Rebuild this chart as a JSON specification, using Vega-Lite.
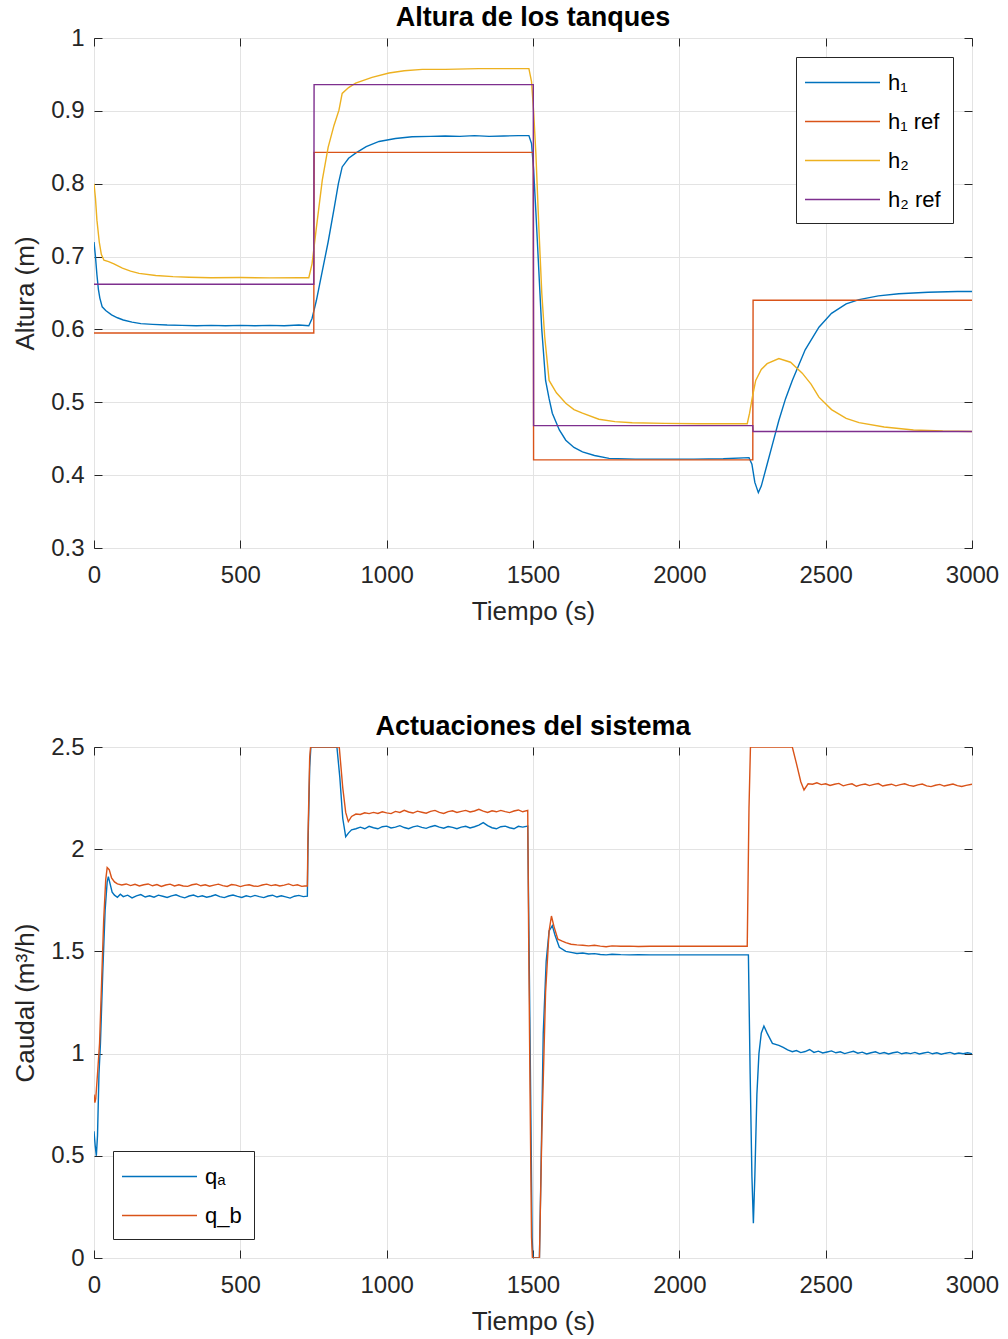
{
  "$schema": "https://vega.github.io/schema/vega-lite/v6.json",
  "background": "white",
  "padding": {"left": 12, "top": 3, "right": 0, "bottom": 0},
  "config": {
    "font": "Liberation Sans",
    "view": {"stroke": "#262626", "strokeWidth": 1},
    "axis": {
      "grid": true, "gridColor": "#e3e3e3", "gridWidth": 1,
      "domain": false, "tickColor": "#262626", "tickSize": -8, "tickWidth": 1,
      "labelFontSize": 24, "labelColor": "#262626",
      "labelFlush": false, "labelOverlap": false,
      "titleFontSize": 26, "titleFontWeight": "normal", "titleColor": "#262626"
    },
    "title": {"fontSize": 27, "fontWeight": "bold", "color": "#000000", "frame": "group", "offset": -6},
    "legend": {
      "title": null, "strokeColor": "#262626", "fillColor": "white", "padding": 12,
      "symbolType": "M-3,0H3", "symbolSize": 625, "symbolStrokeWidth": 1.4, "symbolOffset": 21,
      "labelFontSize": 22, "labelColor": "#000000", "labelOffset": 32, "rowPadding": 14, "offset": 19
    }
  },
  "spacing": 87,
  "resolve": {"scale": {"color": "independent", "x": "independent", "y": "independent"}, "legend": {"color": "independent"}},
  "datasets": {
    "alturas": [
      {"t":0,"v":0.72,"s":"h₁"},{"t":5,"v":0.70,"s":"h₁"},{"t":10,"v":0.675,"s":"h₁"},{"t":15,"v":0.655,"s":"h₁"},{"t":20,"v":0.643,"s":"h₁"},{"t":28,"v":0.631,"s":"h₁"},{"t":40,"v":0.626,"s":"h₁"},{"t":60,"v":0.62,"s":"h₁"},{"t":80,"v":0.616,"s":"h₁"},{"t":100,"v":0.613,"s":"h₁"},{"t":130,"v":0.61,"s":"h₁"},{"t":160,"v":0.608,"s":"h₁"},{"t":200,"v":0.607,"s":"h₁"},{"t":250,"v":0.606,"s":"h₁"},{"t":300,"v":0.6055,"s":"h₁"},{"t":350,"v":0.605,"s":"h₁"},{"t":400,"v":0.6055,"s":"h₁"},{"t":450,"v":0.605,"s":"h₁"},{"t":500,"v":0.6055,"s":"h₁"},{"t":550,"v":0.605,"s":"h₁"},{"t":600,"v":0.6055,"s":"h₁"},{"t":650,"v":0.605,"s":"h₁"},{"t":700,"v":0.606,"s":"h₁"},{"t":734,"v":0.605,"s":"h₁"},{"t":745,"v":0.615,"s":"h₁"},{"t":760,"v":0.64,"s":"h₁"},{"t":780,"v":0.68,"s":"h₁"},{"t":800,"v":0.72,"s":"h₁"},{"t":820,"v":0.765,"s":"h₁"},{"t":835,"v":0.8,"s":"h₁"},{"t":848,"v":0.823,"s":"h₁"},{"t":870,"v":0.835,"s":"h₁"},{"t":894,"v":0.842,"s":"h₁"},{"t":930,"v":0.851,"s":"h₁"},{"t":974,"v":0.858,"s":"h₁"},{"t":1030,"v":0.862,"s":"h₁"},{"t":1087,"v":0.8645,"s":"h₁"},{"t":1150,"v":0.865,"s":"h₁"},{"t":1200,"v":0.8655,"s":"h₁"},{"t":1250,"v":0.865,"s":"h₁"},{"t":1300,"v":0.866,"s":"h₁"},{"t":1350,"v":0.865,"s":"h₁"},{"t":1400,"v":0.8655,"s":"h₁"},{"t":1450,"v":0.866,"s":"h₁"},{"t":1486,"v":0.866,"s":"h₁"},{"t":1495,"v":0.855,"s":"h₁"},{"t":1502,"v":0.82,"s":"h₁"},{"t":1510,"v":0.76,"s":"h₁"},{"t":1520,"v":0.68,"s":"h₁"},{"t":1530,"v":0.6,"s":"h₁"},{"t":1543,"v":0.53,"s":"h₁"},{"t":1555,"v":0.505,"s":"h₁"},{"t":1566,"v":0.485,"s":"h₁"},{"t":1590,"v":0.462,"s":"h₁"},{"t":1612,"v":0.448,"s":"h₁"},{"t":1640,"v":0.438,"s":"h₁"},{"t":1669,"v":0.432,"s":"h₁"},{"t":1710,"v":0.427,"s":"h₁"},{"t":1760,"v":0.423,"s":"h₁"},{"t":1850,"v":0.422,"s":"h₁"},{"t":1950,"v":0.422,"s":"h₁"},{"t":2050,"v":0.422,"s":"h₁"},{"t":2150,"v":0.4225,"s":"h₁"},{"t":2238,"v":0.424,"s":"h₁"},{"t":2248,"v":0.415,"s":"h₁"},{"t":2258,"v":0.39,"s":"h₁"},{"t":2270,"v":0.376,"s":"h₁"},{"t":2280,"v":0.385,"s":"h₁"},{"t":2300,"v":0.415,"s":"h₁"},{"t":2320,"v":0.445,"s":"h₁"},{"t":2340,"v":0.475,"s":"h₁"},{"t":2363,"v":0.505,"s":"h₁"},{"t":2386,"v":0.53,"s":"h₁"},{"t":2430,"v":0.572,"s":"h₁"},{"t":2477,"v":0.603,"s":"h₁"},{"t":2520,"v":0.622,"s":"h₁"},{"t":2570,"v":0.635,"s":"h₁"},{"t":2614,"v":0.641,"s":"h₁"},{"t":2680,"v":0.646,"s":"h₁"},{"t":2750,"v":0.649,"s":"h₁"},{"t":2850,"v":0.651,"s":"h₁"},{"t":2950,"v":0.652,"s":"h₁"},{"t":3000,"v":0.652,"s":"h₁"},
      {"t":0,"v":0.595,"s":"h₁ ref"},{"t":751,"v":0.595,"s":"h₁ ref"},{"t":752,"v":0.843,"s":"h₁ ref"},{"t":1501,"v":0.843,"s":"h₁ ref"},{"t":1502,"v":0.421,"s":"h₁ ref"},{"t":2251,"v":0.421,"s":"h₁ ref"},{"t":2252,"v":0.64,"s":"h₁ ref"},{"t":3000,"v":0.64,"s":"h₁ ref"},
      {"t":0,"v":0.80,"s":"h₂"},{"t":5,"v":0.78,"s":"h₂"},{"t":10,"v":0.75,"s":"h₂"},{"t":18,"v":0.72,"s":"h₂"},{"t":25,"v":0.703,"s":"h₂"},{"t":34,"v":0.695,"s":"h₂"},{"t":50,"v":0.693,"s":"h₂"},{"t":68,"v":0.69,"s":"h₂"},{"t":97,"v":0.684,"s":"h₂"},{"t":125,"v":0.68,"s":"h₂"},{"t":154,"v":0.677,"s":"h₂"},{"t":211,"v":0.674,"s":"h₂"},{"t":270,"v":0.6725,"s":"h₂"},{"t":325,"v":0.6716,"s":"h₂"},{"t":400,"v":0.671,"s":"h₂"},{"t":500,"v":0.6712,"s":"h₂"},{"t":600,"v":0.6708,"s":"h₂"},{"t":700,"v":0.671,"s":"h₂"},{"t":734,"v":0.671,"s":"h₂"},{"t":745,"v":0.69,"s":"h₂"},{"t":760,"v":0.74,"s":"h₂"},{"t":780,"v":0.805,"s":"h₂"},{"t":800,"v":0.85,"s":"h₂"},{"t":820,"v":0.88,"s":"h₂"},{"t":837,"v":0.901,"s":"h₂"},{"t":848,"v":0.924,"s":"h₂"},{"t":870,"v":0.932,"s":"h₂"},{"t":894,"v":0.938,"s":"h₂"},{"t":950,"v":0.946,"s":"h₂"},{"t":1008,"v":0.952,"s":"h₂"},{"t":1060,"v":0.955,"s":"h₂"},{"t":1122,"v":0.957,"s":"h₂"},{"t":1200,"v":0.957,"s":"h₂"},{"t":1315,"v":0.958,"s":"h₂"},{"t":1400,"v":0.958,"s":"h₂"},{"t":1486,"v":0.958,"s":"h₂"},{"t":1495,"v":0.94,"s":"h₂"},{"t":1502,"v":0.9,"s":"h₂"},{"t":1510,"v":0.84,"s":"h₂"},{"t":1520,"v":0.74,"s":"h₂"},{"t":1530,"v":0.65,"s":"h₂"},{"t":1540,"v":0.59,"s":"h₂"},{"t":1555,"v":0.53,"s":"h₂"},{"t":1580,"v":0.513,"s":"h₂"},{"t":1612,"v":0.4986,"s":"h₂"},{"t":1640,"v":0.49,"s":"h₂"},{"t":1669,"v":0.485,"s":"h₂"},{"t":1725,"v":0.4767,"s":"h₂"},{"t":1780,"v":0.4735,"s":"h₂"},{"t":1839,"v":0.472,"s":"h₂"},{"t":1950,"v":0.471,"s":"h₂"},{"t":2067,"v":0.4706,"s":"h₂"},{"t":2232,"v":0.4706,"s":"h₂"},{"t":2240,"v":0.485,"s":"h₂"},{"t":2250,"v":0.508,"s":"h₂"},{"t":2261,"v":0.53,"s":"h₂"},{"t":2280,"v":0.545,"s":"h₂"},{"t":2300,"v":0.553,"s":"h₂"},{"t":2340,"v":0.56,"s":"h₂"},{"t":2380,"v":0.555,"s":"h₂"},{"t":2420,"v":0.54,"s":"h₂"},{"t":2450,"v":0.525,"s":"h₂"},{"t":2477,"v":0.507,"s":"h₂"},{"t":2520,"v":0.49,"s":"h₂"},{"t":2570,"v":0.478,"s":"h₂"},{"t":2614,"v":0.472,"s":"h₂"},{"t":2700,"v":0.466,"s":"h₂"},{"t":2800,"v":0.462,"s":"h₂"},{"t":2900,"v":0.4605,"s":"h₂"},{"t":3000,"v":0.46,"s":"h₂"},
      {"t":0,"v":0.662,"s":"h₂ ref"},{"t":751,"v":0.662,"s":"h₂ ref"},{"t":752,"v":0.936,"s":"h₂ ref"},{"t":1501,"v":0.936,"s":"h₂ ref"},{"t":1502,"v":0.468,"s":"h₂ ref"},{"t":2251,"v":0.468,"s":"h₂ ref"},{"t":2252,"v":0.46,"s":"h₂ ref"},{"t":3000,"v":0.46,"s":"h₂ ref"}
    ],
    "caudal": [
      {"t":0,"v":0.62,"s":"qₐ"},{"t":4,"v":0.55,"s":"qₐ"},{"t":8,"v":0.5,"s":"qₐ"},{"t":12,"v":0.6,"s":"qₐ"},{"t":17,"v":0.9,"s":"qₐ"},{"t":22,"v":1.05,"s":"qₐ"},{"t":30,"v":1.4,"s":"qₐ"},{"t":38,"v":1.7,"s":"qₐ"},{"t":45,"v":1.84,"s":"qₐ"},{"t":49,"v":1.866,"s":"qₐ"},{"t":55,"v":1.83,"s":"qₐ"},{"t":62,"v":1.79,"s":"qₐ"},{"t":70,"v":1.775,"s":"qₐ"},{"t":80,"v":1.765,"s":"qₐ"},{"t":90,"v":1.78,"s":"qₐ"},{"t":100,"v":1.768,"s":"qₐ"},{"t":115,"v":1.775,"s":"qₐ"},{"t":130,"v":1.762,"s":"qₐ"},{"t":145,"v":1.772,"s":"qₐ"},{"t":160,"v":1.778,"s":"qₐ"},{"t":175,"v":1.766,"s":"qₐ"},{"t":190,"v":1.772,"s":"qₐ"},{"t":205,"v":1.765,"s":"qₐ"},{"t":220,"v":1.775,"s":"qₐ"},{"t":235,"v":1.77,"s":"qₐ"},{"t":250,"v":1.764,"s":"qₐ"},{"t":265,"v":1.772,"s":"qₐ"},{"t":280,"v":1.777,"s":"qₐ"},{"t":295,"v":1.768,"s":"qₐ"},{"t":310,"v":1.762,"s":"qₐ"},{"t":325,"v":1.771,"s":"qₐ"},{"t":340,"v":1.776,"s":"qₐ"},{"t":355,"v":1.767,"s":"qₐ"},{"t":370,"v":1.772,"s":"qₐ"},{"t":385,"v":1.765,"s":"qₐ"},{"t":400,"v":1.77,"s":"qₐ"},{"t":415,"v":1.777,"s":"qₐ"},{"t":430,"v":1.768,"s":"qₐ"},{"t":445,"v":1.763,"s":"qₐ"},{"t":460,"v":1.771,"s":"qₐ"},{"t":475,"v":1.776,"s":"qₐ"},{"t":490,"v":1.769,"s":"qₐ"},{"t":505,"v":1.764,"s":"qₐ"},{"t":520,"v":1.772,"s":"qₐ"},{"t":535,"v":1.767,"s":"qₐ"},{"t":550,"v":1.774,"s":"qₐ"},{"t":565,"v":1.768,"s":"qₐ"},{"t":580,"v":1.763,"s":"qₐ"},{"t":595,"v":1.771,"s":"qₐ"},{"t":610,"v":1.775,"s":"qₐ"},{"t":625,"v":1.766,"s":"qₐ"},{"t":640,"v":1.772,"s":"qₐ"},{"t":655,"v":1.767,"s":"qₐ"},{"t":670,"v":1.761,"s":"qₐ"},{"t":685,"v":1.77,"s":"qₐ"},{"t":700,"v":1.774,"s":"qₐ"},{"t":715,"v":1.768,"s":"qₐ"},{"t":729,"v":1.77,"s":"qₐ"},{"t":731,"v":2.0,"s":"qₐ"},{"t":737,"v":2.4,"s":"qₐ"},{"t":741,"v":2.5,"s":"qₐ"},{"t":830,"v":2.5,"s":"qₐ"},{"t":840,"v":2.35,"s":"qₐ"},{"t":850,"v":2.15,"s":"qₐ"},{"t":860,"v":2.061,"s":"qₐ"},{"t":870,"v":2.08,"s":"qₐ"},{"t":880,"v":2.095,"s":"qₐ"},{"t":895,"v":2.1,"s":"qₐ"},{"t":910,"v":2.108,"s":"qₐ"},{"t":925,"v":2.1,"s":"qₐ"},{"t":940,"v":2.112,"s":"qₐ"},{"t":955,"v":2.105,"s":"qₐ"},{"t":970,"v":2.1,"s":"qₐ"},{"t":985,"v":2.11,"s":"qₐ"},{"t":1000,"v":2.113,"s":"qₐ"},{"t":1015,"v":2.104,"s":"qₐ"},{"t":1030,"v":2.108,"s":"qₐ"},{"t":1045,"v":2.115,"s":"qₐ"},{"t":1060,"v":2.106,"s":"qₐ"},{"t":1075,"v":2.1,"s":"qₐ"},{"t":1090,"v":2.109,"s":"qₐ"},{"t":1105,"v":2.114,"s":"qₐ"},{"t":1120,"v":2.107,"s":"qₐ"},{"t":1135,"v":2.102,"s":"qₐ"},{"t":1150,"v":2.11,"s":"qₐ"},{"t":1165,"v":2.116,"s":"qₐ"},{"t":1180,"v":2.108,"s":"qₐ"},{"t":1195,"v":2.103,"s":"qₐ"},{"t":1210,"v":2.111,"s":"qₐ"},{"t":1225,"v":2.107,"s":"qₐ"},{"t":1240,"v":2.1,"s":"qₐ"},{"t":1255,"v":2.108,"s":"qₐ"},{"t":1270,"v":2.112,"s":"qₐ"},{"t":1285,"v":2.104,"s":"qₐ"},{"t":1300,"v":2.11,"s":"qₐ"},{"t":1315,"v":2.118,"s":"qₐ"},{"t":1330,"v":2.13,"s":"qₐ"},{"t":1345,"v":2.115,"s":"qₐ"},{"t":1360,"v":2.105,"s":"qₐ"},{"t":1375,"v":2.1,"s":"qₐ"},{"t":1390,"v":2.11,"s":"qₐ"},{"t":1405,"v":2.113,"s":"qₐ"},{"t":1420,"v":2.105,"s":"qₐ"},{"t":1435,"v":2.1,"s":"qₐ"},{"t":1450,"v":2.112,"s":"qₐ"},{"t":1465,"v":2.108,"s":"qₐ"},{"t":1482,"v":2.113,"s":"qₐ"},{"t":1486,"v":1.6,"s":"qₐ"},{"t":1492,"v":0.8,"s":"qₐ"},{"t":1497,"v":0.1,"s":"qₐ"},{"t":1500,"v":0,"s":"qₐ"},{"t":1522,"v":0,"s":"qₐ"},{"t":1527,"v":0.4,"s":"qₐ"},{"t":1535,"v":1.1,"s":"qₐ"},{"t":1545,"v":1.45,"s":"qₐ"},{"t":1555,"v":1.6,"s":"qₐ"},{"t":1566,"v":1.626,"s":"qₐ"},{"t":1575,"v":1.58,"s":"qₐ"},{"t":1590,"v":1.52,"s":"qₐ"},{"t":1612,"v":1.5,"s":"qₐ"},{"t":1630,"v":1.495,"s":"qₐ"},{"t":1650,"v":1.49,"s":"qₐ"},{"t":1670,"v":1.492,"s":"qₐ"},{"t":1690,"v":1.487,"s":"qₐ"},{"t":1710,"v":1.489,"s":"qₐ"},{"t":1730,"v":1.485,"s":"qₐ"},{"t":1750,"v":1.483,"s":"qₐ"},{"t":1770,"v":1.486,"s":"qₐ"},{"t":1800,"v":1.484,"s":"qₐ"},{"t":1830,"v":1.483,"s":"qₐ"},{"t":1860,"v":1.484,"s":"qₐ"},{"t":1900,"v":1.483,"s":"qₐ"},{"t":2000,"v":1.483,"s":"qₐ"},{"t":2100,"v":1.483,"s":"qₐ"},{"t":2200,"v":1.483,"s":"qₐ"},{"t":2236,"v":1.483,"s":"qₐ"},{"t":2242,"v":0.9,"s":"qₐ"},{"t":2248,"v":0.4,"s":"qₐ"},{"t":2253,"v":0.17,"s":"qₐ"},{"t":2258,"v":0.4,"s":"qₐ"},{"t":2265,"v":0.8,"s":"qₐ"},{"t":2272,"v":1.0,"s":"qₐ"},{"t":2280,"v":1.1,"s":"qₐ"},{"t":2289,"v":1.135,"s":"qₐ"},{"t":2300,"v":1.1,"s":"qₐ"},{"t":2318,"v":1.05,"s":"qₐ"},{"t":2340,"v":1.04,"s":"qₐ"},{"t":2355,"v":1.03,"s":"qₐ"},{"t":2370,"v":1.018,"s":"qₐ"},{"t":2386,"v":1.009,"s":"qₐ"},{"t":2400,"v":1.015,"s":"qₐ"},{"t":2415,"v":1.005,"s":"qₐ"},{"t":2430,"v":1.01,"s":"qₐ"},{"t":2445,"v":1.02,"s":"qₐ"},{"t":2460,"v":1.006,"s":"qₐ"},{"t":2475,"v":1.012,"s":"qₐ"},{"t":2490,"v":1.003,"s":"qₐ"},{"t":2505,"v":1.008,"s":"qₐ"},{"t":2520,"v":1.013,"s":"qₐ"},{"t":2535,"v":1.004,"s":"qₐ"},{"t":2550,"v":1.009,"s":"qₐ"},{"t":2565,"v":1.0,"s":"qₐ"},{"t":2580,"v":1.006,"s":"qₐ"},{"t":2595,"v":1.011,"s":"qₐ"},{"t":2610,"v":1.002,"s":"qₐ"},{"t":2625,"v":1.007,"s":"qₐ"},{"t":2640,"v":0.998,"s":"qₐ"},{"t":2655,"v":1.004,"s":"qₐ"},{"t":2670,"v":1.009,"s":"qₐ"},{"t":2685,"v":1.0,"s":"qₐ"},{"t":2700,"v":1.005,"s":"qₐ"},{"t":2715,"v":0.998,"s":"qₐ"},{"t":2730,"v":1.004,"s":"qₐ"},{"t":2745,"v":1.008,"s":"qₐ"},{"t":2760,"v":0.999,"s":"qₐ"},{"t":2775,"v":1.004,"s":"qₐ"},{"t":2790,"v":1.0,"s":"qₐ"},{"t":2805,"v":1.006,"s":"qₐ"},{"t":2820,"v":0.998,"s":"qₐ"},{"t":2835,"v":1.003,"s":"qₐ"},{"t":2850,"v":1.007,"s":"qₐ"},{"t":2865,"v":0.999,"s":"qₐ"},{"t":2880,"v":1.004,"s":"qₐ"},{"t":2895,"v":0.997,"s":"qₐ"},{"t":2910,"v":1.002,"s":"qₐ"},{"t":2925,"v":1.006,"s":"qₐ"},{"t":2940,"v":0.998,"s":"qₐ"},{"t":2955,"v":1.003,"s":"qₐ"},{"t":2970,"v":0.999,"s":"qₐ"},{"t":2985,"v":1.004,"s":"qₐ"},{"t":3000,"v":1.0,"s":"qₐ"},
      {"t":0,"v":0.8,"s":"q_b"},{"t":3,"v":0.76,"s":"q_b"},{"t":6,"v":0.78,"s":"q_b"},{"t":12,"v":0.9,"s":"q_b"},{"t":19,"v":1.05,"s":"q_b"},{"t":26,"v":1.35,"s":"q_b"},{"t":33,"v":1.65,"s":"q_b"},{"t":40,"v":1.85,"s":"q_b"},{"t":45,"v":1.91,"s":"q_b"},{"t":52,"v":1.9,"s":"q_b"},{"t":60,"v":1.86,"s":"q_b"},{"t":70,"v":1.84,"s":"q_b"},{"t":80,"v":1.83,"s":"q_b"},{"t":95,"v":1.825,"s":"q_b"},{"t":110,"v":1.83,"s":"q_b"},{"t":125,"v":1.822,"s":"q_b"},{"t":140,"v":1.828,"s":"q_b"},{"t":155,"v":1.82,"s":"q_b"},{"t":170,"v":1.826,"s":"q_b"},{"t":185,"v":1.83,"s":"q_b"},{"t":200,"v":1.821,"s":"q_b"},{"t":215,"v":1.827,"s":"q_b"},{"t":230,"v":1.818,"s":"q_b"},{"t":245,"v":1.825,"s":"q_b"},{"t":260,"v":1.829,"s":"q_b"},{"t":275,"v":1.82,"s":"q_b"},{"t":290,"v":1.826,"s":"q_b"},{"t":305,"v":1.82,"s":"q_b"},{"t":320,"v":1.818,"s":"q_b"},{"t":335,"v":1.826,"s":"q_b"},{"t":350,"v":1.83,"s":"q_b"},{"t":365,"v":1.821,"s":"q_b"},{"t":380,"v":1.826,"s":"q_b"},{"t":395,"v":1.819,"s":"q_b"},{"t":410,"v":1.824,"s":"q_b"},{"t":425,"v":1.829,"s":"q_b"},{"t":440,"v":1.822,"s":"q_b"},{"t":455,"v":1.818,"s":"q_b"},{"t":470,"v":1.827,"s":"q_b"},{"t":485,"v":1.824,"s":"q_b"},{"t":500,"v":1.817,"s":"q_b"},{"t":515,"v":1.823,"s":"q_b"},{"t":530,"v":1.826,"s":"q_b"},{"t":545,"v":1.82,"s":"q_b"},{"t":560,"v":1.818,"s":"q_b"},{"t":575,"v":1.825,"s":"q_b"},{"t":590,"v":1.829,"s":"q_b"},{"t":605,"v":1.822,"s":"q_b"},{"t":620,"v":1.826,"s":"q_b"},{"t":635,"v":1.82,"s":"q_b"},{"t":650,"v":1.824,"s":"q_b"},{"t":665,"v":1.83,"s":"q_b"},{"t":680,"v":1.822,"s":"q_b"},{"t":695,"v":1.826,"s":"q_b"},{"t":710,"v":1.818,"s":"q_b"},{"t":720,"v":1.82,"s":"q_b"},{"t":729,"v":1.82,"s":"q_b"},{"t":731,"v":2.05,"s":"q_b"},{"t":737,"v":2.45,"s":"q_b"},{"t":740,"v":2.5,"s":"q_b"},{"t":838,"v":2.5,"s":"q_b"},{"t":850,"v":2.3,"s":"q_b"},{"t":860,"v":2.18,"s":"q_b"},{"t":869,"v":2.135,"s":"q_b"},{"t":880,"v":2.16,"s":"q_b"},{"t":895,"v":2.172,"s":"q_b"},{"t":910,"v":2.17,"s":"q_b"},{"t":925,"v":2.178,"s":"q_b"},{"t":940,"v":2.174,"s":"q_b"},{"t":955,"v":2.18,"s":"q_b"},{"t":970,"v":2.175,"s":"q_b"},{"t":985,"v":2.183,"s":"q_b"},{"t":1000,"v":2.178,"s":"q_b"},{"t":1015,"v":2.174,"s":"q_b"},{"t":1030,"v":2.185,"s":"q_b"},{"t":1045,"v":2.18,"s":"q_b"},{"t":1060,"v":2.19,"s":"q_b"},{"t":1075,"v":2.182,"s":"q_b"},{"t":1090,"v":2.177,"s":"q_b"},{"t":1105,"v":2.186,"s":"q_b"},{"t":1120,"v":2.181,"s":"q_b"},{"t":1135,"v":2.176,"s":"q_b"},{"t":1150,"v":2.185,"s":"q_b"},{"t":1165,"v":2.19,"s":"q_b"},{"t":1180,"v":2.18,"s":"q_b"},{"t":1195,"v":2.175,"s":"q_b"},{"t":1210,"v":2.184,"s":"q_b"},{"t":1225,"v":2.188,"s":"q_b"},{"t":1240,"v":2.18,"s":"q_b"},{"t":1255,"v":2.185,"s":"q_b"},{"t":1270,"v":2.19,"s":"q_b"},{"t":1285,"v":2.182,"s":"q_b"},{"t":1300,"v":2.187,"s":"q_b"},{"t":1315,"v":2.195,"s":"q_b"},{"t":1330,"v":2.186,"s":"q_b"},{"t":1345,"v":2.18,"s":"q_b"},{"t":1360,"v":2.188,"s":"q_b"},{"t":1375,"v":2.183,"s":"q_b"},{"t":1390,"v":2.19,"s":"q_b"},{"t":1405,"v":2.184,"s":"q_b"},{"t":1420,"v":2.179,"s":"q_b"},{"t":1435,"v":2.187,"s":"q_b"},{"t":1450,"v":2.192,"s":"q_b"},{"t":1465,"v":2.183,"s":"q_b"},{"t":1482,"v":2.19,"s":"q_b"},{"t":1485,"v":1.6,"s":"q_b"},{"t":1490,"v":0.8,"s":"q_b"},{"t":1495,"v":0.1,"s":"q_b"},{"t":1498,"v":0,"s":"q_b"},{"t":1522,"v":0,"s":"q_b"},{"t":1530,"v":0.6,"s":"q_b"},{"t":1543,"v":1.3,"s":"q_b"},{"t":1555,"v":1.6,"s":"q_b"},{"t":1563,"v":1.673,"s":"q_b"},{"t":1572,"v":1.62,"s":"q_b"},{"t":1585,"v":1.56,"s":"q_b"},{"t":1600,"v":1.55,"s":"q_b"},{"t":1612,"v":1.543,"s":"q_b"},{"t":1630,"v":1.535,"s":"q_b"},{"t":1650,"v":1.532,"s":"q_b"},{"t":1670,"v":1.53,"s":"q_b"},{"t":1690,"v":1.527,"s":"q_b"},{"t":1710,"v":1.53,"s":"q_b"},{"t":1730,"v":1.526,"s":"q_b"},{"t":1750,"v":1.523,"s":"q_b"},{"t":1770,"v":1.527,"s":"q_b"},{"t":1800,"v":1.525,"s":"q_b"},{"t":1830,"v":1.526,"s":"q_b"},{"t":1860,"v":1.524,"s":"q_b"},{"t":1900,"v":1.525,"s":"q_b"},{"t":2000,"v":1.525,"s":"q_b"},{"t":2100,"v":1.525,"s":"q_b"},{"t":2200,"v":1.525,"s":"q_b"},{"t":2232,"v":1.525,"s":"q_b"},{"t":2238,"v":2.2,"s":"q_b"},{"t":2243,"v":2.5,"s":"q_b"},{"t":2386,"v":2.5,"s":"q_b"},{"t":2400,"v":2.42,"s":"q_b"},{"t":2415,"v":2.33,"s":"q_b"},{"t":2426,"v":2.29,"s":"q_b"},{"t":2440,"v":2.32,"s":"q_b"},{"t":2455,"v":2.318,"s":"q_b"},{"t":2470,"v":2.325,"s":"q_b"},{"t":2485,"v":2.316,"s":"q_b"},{"t":2500,"v":2.32,"s":"q_b"},{"t":2515,"v":2.312,"s":"q_b"},{"t":2530,"v":2.318,"s":"q_b"},{"t":2545,"v":2.322,"s":"q_b"},{"t":2560,"v":2.31,"s":"q_b"},{"t":2575,"v":2.316,"s":"q_b"},{"t":2590,"v":2.32,"s":"q_b"},{"t":2605,"v":2.308,"s":"q_b"},{"t":2620,"v":2.315,"s":"q_b"},{"t":2635,"v":2.319,"s":"q_b"},{"t":2650,"v":2.311,"s":"q_b"},{"t":2665,"v":2.317,"s":"q_b"},{"t":2680,"v":2.321,"s":"q_b"},{"t":2695,"v":2.309,"s":"q_b"},{"t":2710,"v":2.314,"s":"q_b"},{"t":2725,"v":2.318,"s":"q_b"},{"t":2740,"v":2.31,"s":"q_b"},{"t":2755,"v":2.316,"s":"q_b"},{"t":2770,"v":2.32,"s":"q_b"},{"t":2785,"v":2.312,"s":"q_b"},{"t":2800,"v":2.308,"s":"q_b"},{"t":2815,"v":2.315,"s":"q_b"},{"t":2830,"v":2.319,"s":"q_b"},{"t":2845,"v":2.31,"s":"q_b"},{"t":2860,"v":2.306,"s":"q_b"},{"t":2875,"v":2.313,"s":"q_b"},{"t":2890,"v":2.317,"s":"q_b"},{"t":2905,"v":2.309,"s":"q_b"},{"t":2920,"v":2.314,"s":"q_b"},{"t":2935,"v":2.319,"s":"q_b"},{"t":2950,"v":2.311,"s":"q_b"},{"t":2965,"v":2.307,"s":"q_b"},{"t":2980,"v":2.312,"s":"q_b"},{"t":3000,"v":2.318,"s":"q_b"}
    ]
  },
  "vconcat": [
    {
      "width": 878, "height": 510,
      "title": {"text": "Altura de los tanques"},
      "data": {"name": "alturas"},
      "resolve": {"axis": {"x": "independent", "y": "independent"}},
      "layer": [
        {
          "mark": {"type": "line", "strokeWidth": 1.4, "clip": true},
          "encoding": {
            "x": {"field": "t", "type": "quantitative", "scale": {"domain": [0, 3000], "nice": false},
                  "axis": {"values": [0, 500, 1000, 1500, 2000, 2500, 3000], "format": "d", "title": "Tiempo (s)", "labelPadding": 23, "titlePadding": 11}},
            "y": {"field": "v", "type": "quantitative", "scale": {"domain": [0.3, 1], "nice": false, "zero": false},
                  "axis": {"values": [0.3, 0.4, 0.5, 0.6, 0.7, 0.8, 0.9, 1], "format": "~g", "title": "Altura (m)", "labelPadding": 18, "titlePadding": 12}},
            "color": {"field": "s", "type": "nominal",
                      "scale": {"domain": ["h₁", "h₁ ref", "h₂", "h₂ ref"], "range": ["#0072BD", "#D95319", "#EDB120", "#7E2F8E"]},
                      "legend": {"orient": "top-right"}}
          }
        },
        {
          "mark": {"type": "line", "opacity": 0},
          "encoding": {
            "x": {"field": "t", "type": "quantitative",
                  "axis": {"orient": "top", "values": [0, 500, 1000, 1500, 2000, 2500, 3000], "labels": false, "grid": false, "title": null, "labelPadding": 0, "minExtent": 0, "maxExtent": 0}},
            "y": {"field": "v", "type": "quantitative",
                  "axis": {"orient": "right", "values": [0.3, 0.4, 0.5, 0.6, 0.7, 0.8, 0.9, 1], "labels": false, "grid": false, "title": null, "labelPadding": 0, "minExtent": 0, "maxExtent": 0}}
          }
        }
      ]
    },
    {
      "width": 878, "height": 511,
      "title": {"text": "Actuaciones del sistema"},
      "data": {"name": "caudal"},
      "resolve": {"axis": {"x": "independent", "y": "independent"}},
      "layer": [
        {
          "mark": {"type": "line", "strokeWidth": 1.4, "clip": true},
          "encoding": {
            "x": {"field": "t", "type": "quantitative", "scale": {"domain": [0, 3000], "nice": false},
                  "axis": {"values": [0, 500, 1000, 1500, 2000, 2500, 3000], "format": "d", "title": "Tiempo (s)", "labelPadding": 23, "titlePadding": 11}},
            "y": {"field": "v", "type": "quantitative", "scale": {"domain": [0, 2.5], "nice": false},
                  "axis": {"values": [0, 0.5, 1, 1.5, 2, 2.5], "format": "~g", "title": "Caudal (m³/h)", "labelPadding": 18, "titlePadding": 12}},
            "color": {"field": "s", "type": "nominal",
                      "scale": {"domain": ["qₐ", "q_b"], "range": ["#0072BD", "#D95319"]},
                      "legend": {"orient": "bottom-left"}}
          }
        },
        {
          "mark": {"type": "line", "opacity": 0},
          "encoding": {
            "x": {"field": "t", "type": "quantitative",
                  "axis": {"orient": "top", "values": [0, 500, 1000, 1500, 2000, 2500, 3000], "labels": false, "grid": false, "title": null, "labelPadding": 0, "minExtent": 0, "maxExtent": 0}},
            "y": {"field": "v", "type": "quantitative",
                  "axis": {"orient": "right", "values": [0, 0.5, 1, 1.5, 2, 2.5], "labels": false, "grid": false, "title": null, "labelPadding": 0, "minExtent": 0, "maxExtent": 0}}
          }
        }
      ]
    }
  ]
}
